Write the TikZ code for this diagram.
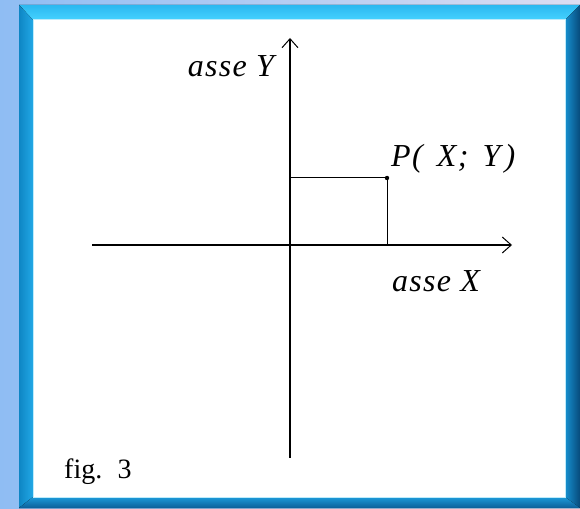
\documentclass[tikz,border=0pt]{standalone}
\usepackage{fontspec}
\setmainfont{Liberation Serif}
\usetikzlibrary{arrows.meta,positioning}
\definecolor{bgleft}{HTML}{8FBDF3}
\definecolor{bgright}{HTML}{DCDDF2}
\definecolor{frametop}{HTML}{2BB8F0}
\definecolor{frametopin}{HTML}{45D2FF}
\definecolor{frameleft}{HTML}{0E86C4}
\definecolor{frameleftin}{HTML}{22A8E6}
\definecolor{frameright}{HTML}{074A7A}
\definecolor{framerightin}{HTML}{1690D0}
\definecolor{framebot}{HTML}{0B5F98}
\definecolor{framebotin}{HTML}{1C9ADA}
\definecolor{frameedge}{HTML}{BDEBFB}

\begin{document}
\begin{tikzpicture}[x=1pt, y=1pt,
  axis/.style={line width=2.4pt, -{Straight Barb[line width=1pt, length=9pt, width=16pt]}},
  guide/.style={line width=1pt},
  lbl/.style={font=\itshape\fontsize{32}{34}\selectfont\addfontfeature{LetterSpace=4}, inner sep=0pt},
  figlbl/.style={font=\fontsize{28}{30}\selectfont, inner sep=0pt}]
\useasboundingbox (0,0) rectangle (580,508);
% background and bevelled frame
\fill[left color=bgleft, right color=bgright] (0,0) rectangle (580,508);
\fill[top color=frametop, bottom color=frametopin] (19,503) -- (580,503) -- (565,488) -- (33,488) -- cycle;
\fill[left color=frameleft, right color=frameleftin] (19,503) -- (33,488) -- (33,11) -- (19,0) -- cycle;
\fill[left color=framerightin, right color=frameright] (580,503) -- (565,488) -- (565,11) -- (580,0) -- cycle;
\fill[top color=framebotin, bottom color=framebot] (19,0) -- (33,11) -- (565,11) -- (580,0) -- cycle;
\fill[white] (33,11) rectangle (565,488);
\draw[frameedge, line width=1pt] (33,11) rectangle (565,488);

% axes
\coordinate (xl) at (92,263);
\coordinate (xr) at (512,263);
\coordinate (yb) at (290,50);
\coordinate (yt) at (290,470);
\draw[axis] (xl) -- (xr);
\draw[axis] (yb) -- (yt);

% point P
\coordinate (p) at (387,330);
\coordinate (py) at (290,330);
\coordinate (px) at (387,263);
\draw[guide] (py) -- (p) -- (px);
\fill (p) circle (2.2pt);

\node[lbl, anchor=base east] (ylbl) at (274,431) {asse Y};
\node[lbl, anchor=base west] (plbl) at (391,341) {P(\hspace{5pt} X;\hspace{5pt} Y\hspace{4pt})};
\node[lbl, anchor=base] (xlbl) at (436,216) {asse X};
\node[figlbl, anchor=base west] (fig) at (64,30) {fig.\hspace{6pt} 3};
\end{tikzpicture}
\end{document}
